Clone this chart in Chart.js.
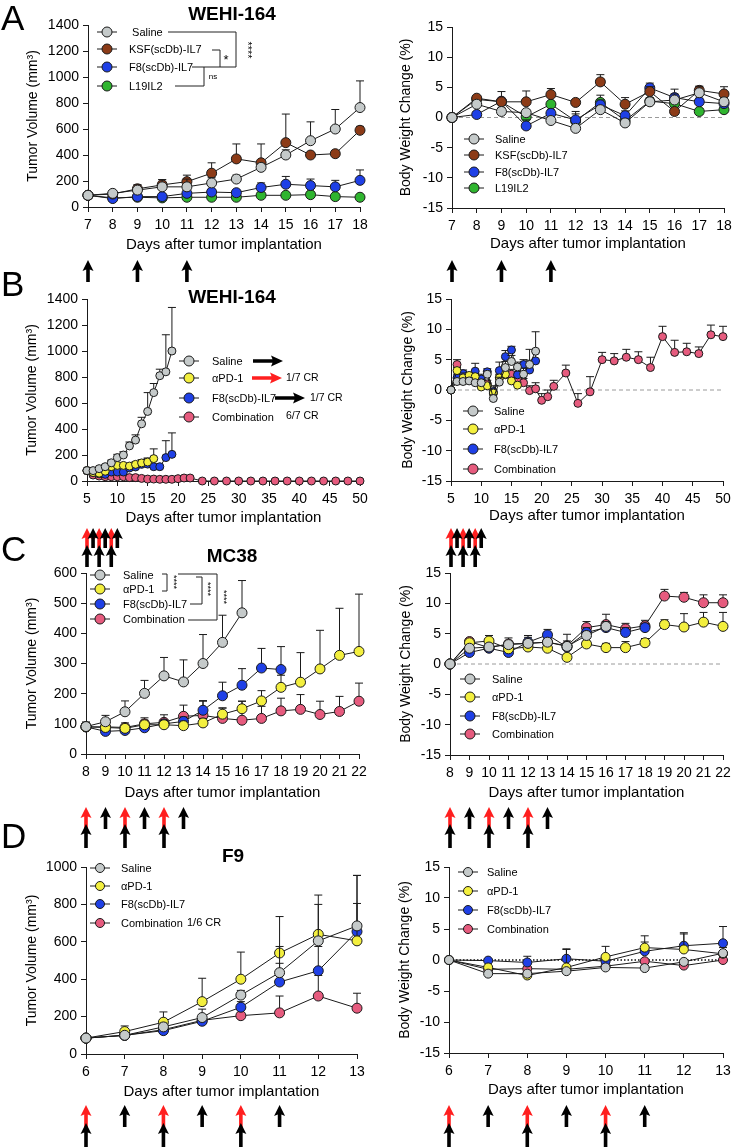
<!DOCTYPE html>
<html>
<head>
<meta charset="utf-8">
<script src="https://cdn.jsdelivr.net/npm/chart.js@4.4.1/dist/chart.umd.min.js"></script>
<style>
  html, body { margin: 0; padding: 0; overflow: hidden; background: #fff; }
  body { width: 732px; height: 1148px; position: relative; font-family: "Liberation Sans", Arial, sans-serif; }
  canvas { position: absolute; }
  .letter { position: absolute; font-size: 35px; line-height: 1; color: #000; z-index: 5; }
  .title { position: absolute; font-size: 19px; font-weight: bold; line-height: 1; color: #000;
           transform: translateX(-50%); white-space: nowrap; z-index: 5; }
</style>
</head>
<body>
<div class="letter" style="left:1px;top:0px">A</div>
<div class="letter" style="left:1px;top:266px">B</div>
<div class="letter" style="left:1px;top:531px">C</div>
<div class="letter" style="left:1px;top:818px">D</div>
<div class="title" style="left:232px;top:4px">WEHI-164</div>
<div class="title" style="left:232px;top:287px">WEHI-164</div>
<div class="title" style="left:232px;top:546px">MC38</div>
<div class="title" style="left:233px;top:846px">F9</div>

<canvas id="aVol"></canvas>
<canvas id="aBw"></canvas>
<canvas id="bVol"></canvas>
<canvas id="bBw"></canvas>
<canvas id="cVol"></canvas>
<canvas id="cBw"></canvas>
<canvas id="dVol"></canvas>
<canvas id="dBw"></canvas>

<script>
const FONT = '"Liberation Sans", Arial, sans-serif';
const INK = '#1a1a1a';
const RED = '#ff1f1f';
const COLORS = {
  saline: '#c5caca',
  ksf: '#8c3b17',
  f8: '#1f40e6',
  l19: '#2fb52f',
  pd1: '#f3ef3e',
  combo: '#e65b7e',
};

// ---- A: WEHI-164, single agents ----
const daysA = [7, 8, 9, 10, 11, 12, 13, 14, 15, 16, 17, 18];
const volSalineA = [90, 105, 130, 155, 155, 185, 215, 305, 400, 510, 600, 765];
const volSalineAErr = [0, 10, 40, 55, 60, 40, 30, 30, 40, 145, 150, 205];
const volKsfA = [90, 100, 140, 170, 195, 260, 370, 340, 495, 400, 410, 590];
const volKsfAErr = [0, 10, 30, 40, 50, 80, 115, 145, 220, 20, 25, 30];
const volF8A = [90, 65, 80, 80, 105, 115, 110, 150, 175, 165, 155, 205];
const volF8AErr = [0, 5, 10, 10, 15, 20, 15, 35, 60, 50, 50, 80];
const volL19A = [90, 70, 75, 70, 75, 75, 75, 90, 90, 95, 80, 75];
const volL19AErr = [0, 5, 5, 5, 10, 10, 10, 15, 15, 15, 15, 20];
const bwSalineA = [0, 2.2, 1.0, 0.8, -0.5, -1.8, 1.3, -0.9, 2.6, 2.9, 4.1, 2.6];
const bwSalineAErr = [0, 0.5, 0.6, 0.5, 0.5, 0.5, 0.6, 0.4, 0.6, 1.0, 1.0, 0.6];
const bwKsfA = [0, 3.2, 2.6, 2.6, 3.8, 2.5, 5.9, 2.2, 4.3, 1.0, 4.5, 3.9];
const bwKsfAErr = [0, 0.4, 1.7, 1.8, 1.0, 0.4, 1.2, 1.1, 0.8, 0.5, 0.7, 1.2];
const bwF8A = [0, 0.5, 2.7, -1.4, 0.7, -0.4, 2.1, 0.3, 4.9, 3.3, 2.6, 2.3];
const bwF8AErr = [0, 0.4, 0.5, 1.0, 0.6, 1.0, 0.8, 0.8, 0.8, 1.4, 0.6, 0.6];
const bwL19A = [0, 3.0, 2.6, 0.1, 2.2, -0.6, 2.5, -0.5, 2.7, 2.3, 1.0, 1.3];
const bwL19AErr = [0, 0.3, 0.4, 0.5, 0.5, 1.6, 1.2, 0.4, 0.6, 0.6, 0.5, 0.5];
const doseA = [7, 9, 11];

// ---- B: WEHI-164, combination ----
const daysSalineB = [5, 6, 7, 8, 9, 10, 11, 12, 13, 14, 15, 16, 17, 18, 19];
const daysPd1B = [5, 6, 7, 8, 9, 10, 11, 12, 13, 14, 15, 16];
const daysF8B = [5, 6, 7, 8, 9, 10, 11, 12, 13, 14, 15, 16, 17, 18, 19];
const daysComboB = [5, 6, 7, 8, 9, 10, 11, 12, 13, 14, 15, 16, 17, 18, 19, 20, 21, 22,
  24, 26, 28, 30, 32, 34, 36, 38, 40, 42, 44, 46, 48, 50];
const volSalineB = [80, 80, 95, 110, 140, 180, 200, 270, 315, 440, 535, 680, 810, 840, 1000];
const volSalineBErr = [10, 10, 10, 15, 20, 25, 25, 30, 40, 50, 145, 70, 50, 285, 335];
const volPd1B = [80, 65, 60, 75, 110, 120, 120, 115, 128, 139, 146, 172];
const volPd1BErr = [5, 5, 5, 5, 10, 15, 15, 15, 20, 25, 30, 75];
const volF8B = [80, 65, 55, 51, 69, 69, 69, 100, 108, 128, 130, 110, 110, 180, 205];
const volF8BErr = [5, 5, 5, 5, 5, 5, 10, 10, 15, 20, 45, 10, 10, 130, 165];
const volComboB = [80, 46, 38, 33, 33, 33, 33, 26, 26, 20, 15, 15, 13, 13, 13, 18, 23, 23,
  0, 0, 0, 0, 0, 0, 0, 0, 0, 0, 0, 0, 0, 0];
const volComboBErr = [5, 5, 5, 5, 5, 5, 5, 5, 5, 5, 5, 5, 5, 5, 5, 5, 5, 5,
  0, 0, 0, 0, 0, 0, 0, 0, 0, 0, 0, 0, 0, 0];
const bwSalineB = [0, 1.4, 1.4, 1.5, 1.2, 1.2, 2.6, -1.4, 1.3, 3.7, 4.7, 3.8, 2.6, 4.2, 6.4];
const bwSalineBErr = [0, 0.5, 0.5, 0.5, 0.5, 0.5, 0.5, 0.6, 0.8, 1.0, 1.0, 0.8, 1.0, 2.5, 3.2];
const bwPd1B = [0, 3.2, 2.0, 2.4, 2.2, 0.5, 0.7, -0.5, 2.0, 2.6, 1.5, 0.8];
const bwPd1BErr = [0, 0.5, 0.8, 0.5, 0.5, 0.5, 0.5, 0.5, 0.5, 0.8, 0.5, 0.5];
const bwF8B = [0, 2.0, 2.7, 2.0, 3.1, 1.8, 3.0, -0.3, 3.2, 5.5, 6.6, 2.5, 4.2, 3.3, 4.8];
const bwF8BErr = [0, 0.6, 0.6, 0.5, 1.3, 0.8, 0.5, 1.0, 1.4, 1.0, 0.6, 1.1, 0.8, 1.6, 1.5];
const bwComboB = [0, 4.2, 2.5, 2.2, 2.0, 1.5, 1.0, -0.5, 2.0, 2.5, 2.6, 1.8, 1.2, -0.1, 0.2, -1.7, -1.1, 0.6,
  2.8, -2.2, -0.3, 5.0, 4.8, 5.4, 5.0, 3.7, 8.8, 6.2, 6.3, 6.0, 9.1, 8.8];
const bwComboBErr = [0, 0.8, 0.6, 0.6, 0.6, 0.6, 0.6, 0.6, 0.6, 0.6, 0.8, 0.8, 0.7, 0.8, 1.0, 1.1, 1.1, 1.0,
  1.3, 1.6, 2.5, 1.2, 1.2, 1.3, 1.3, 1.7, 1.7, 2.0, 1.4, 1.1, 1.6, 1.7];
const doseBRed = [5, 7, 9];
const doseBBlackTop = [6, 8, 10];
const doseBBlackLow = [5, 7, 9];

// ---- C: MC38 ----
const daysC = [8, 9, 10, 11, 12, 13, 14, 15, 16, 17, 18, 19, 20, 21, 22];
const daysSalineC = [8, 9, 10, 11, 12, 13, 14, 15, 16];
const daysF8C = [8, 9, 10, 11, 12, 13, 14, 15, 16, 17, 18];
const volSalineC = [91, 107, 140, 201, 259, 239, 300, 370, 468];
const volSalineCErr = [15, 21, 36, 43, 61, 73, 96, 90, 107];
const volPd1C = [90, 88, 85, 97, 97, 94, 103, 132, 150, 176, 221, 238, 282, 327, 340];
const volPd1CErr = [10, 10, 10, 15, 15, 15, 15, 20, 25, 34, 40, 98, 128, 156, 190];
const volF8C = [90, 75, 78, 87, 100, 108, 145, 193, 228, 285, 280];
const volF8CErr = [15, 10, 10, 10, 10, 15, 32, 45, 55, 65, 76];
const volComboC = [90, 90, 88, 100, 105, 125, 128, 118, 112, 118, 143, 148, 131, 141, 175];
const volComboCErr = [10, 15, 15, 20, 25, 37, 47, 35, 63, 40, 42, 49, 44, 50, 60];
const bwSalineC = [0, 2.6, 2.8, 3.2, 3.4, 3.6, 2.9, 4.7, 6.2];
const bwSalineCErr = [0, 0.5, 0.5, 0.6, 0.6, 0.6, 0.6, 0.7, 0.8];
const bwPd1C = [0, 3.5, 3.8, 2.5, 2.8, 2.6, 1.1, 3.3, 2.7, 2.7, 3.5, 6.5, 6.1, 6.9, 6.2];
const bwPd1CErr = [0, 0.4, 0.9, 0.6, 0.5, 0.5, 0.5, 0.5, 0.7, 1.0, 0.7, 0.8, 2.2, 1.6, 2.3];
const bwF8C = [0, 1.9, 2.6, 1.9, 3.6, 4.8, 2.8, 5.2, 6.0, 5.2, 6.0];
const bwF8CErr = [0, 0.5, 0.6, 0.6, 0.8, 0.9, 1.0, 0.8, 0.9, 0.8, 0.7];
const bwComboC = [0, 3.7, 2.7, 3.3, 3.4, 3.6, 3.0, 6.0, 6.5, 5.8, 6.3, 11.2, 11.0, 10.1, 10.1];
const bwComboCErr = [0, 0.4, 0.8, 1.0, 1.3, 0.8, 1.9, 1.0, 1.7, 0.9, 0.9, 1.1, 0.8, 1.3, 1.3];
const doseCRed = [8, 10, 12];
const doseCBlackTop = [9, 11, 13];
const doseCBlackLow = [8, 10, 12];

// ---- D: F9 ----
const daysD = [6, 7, 8, 9, 10, 11, 12, 13];
const volSalineD = [85, 100, 145, 195, 315, 435, 605, 685];
const volSalineDErr = [0, 12, 20, 45, 25, 140, 195, 270];
const volPd1D = [85, 120, 170, 280, 400, 540, 640, 605];
const volPd1DErr = [0, 30, 55, 125, 145, 195, 210, 350];
const volF8D = [85, 100, 125, 175, 250, 385, 445, 655];
const volF8DErr = [0, 10, 15, 30, 30, 100, 130, 150];
const volComboD = [85, 100, 130, 180, 205, 220, 310, 245];
const volComboDErr = [0, 10, 15, 25, 30, 90, 110, 80];
const bwSalineD = [0, -2.2, -2.2, -1.8, -1.2, -1.3, -0.3, 1.1];
const bwSalineDErr = [0, 0.3, 0.3, 0.3, 0.3, 0.3, 0.3, 0.3];
const bwPd1D = [0, -1.2, -2.5, -1.2, 0.5, 2.0, 1.7, 1.0];
const bwPd1DErr = [0, 0.3, 0.5, 3.0, 1.7, 1.9, 2.5, 1.0];
const bwF8D = [0, -0.1, -0.4, 0.2, -0.2, 1.4, 2.3, 2.7];
const bwF8DErr = [0, 0.3, 1.0, 1.5, 0.5, 1.5, 2.1, 2.7];
const bwComboD = [0, -1.5, -1.4, -1.5, -1.0, -0.2, -0.9, 0.0];
const bwComboDErr = [0, 0.3, 0.3, 0.3, 0.3, 0.3, 0.3, 0.3];
const doseDRed = [6, 8, 10];
const doseDBlackTop = [7, 9, 11];
const doseDBlackLow = [6, 8, 10];

const VOL_TITLE = 'Tumor Volume (mm\u00b3)';
const BW_TITLE = 'Body Weight Change (%)';
const X_TITLE = 'Days after tumor implantation';

// extra drawing info per canvas (page coordinates), read by the plugin
const extras = {};

function series(color, days, vals, err, r) {
  return {
    data: days.map((d, i) => ({ x: d, y: vals[i] })),
    errUp: err,
    borderColor: INK,
    borderWidth: 1,
    pointBackgroundColor: color,
    pointBorderColor: INK,
    pointBorderWidth: 1,
    pointRadius: r,
    pointHoverRadius: r,
    tension: 0,
    fill: false,
    clip: false,
  };
}

function upArrow(ctx, x, tip, len, color) {
  const hw = 5.5, hh = 11, sw = 1.8;
  ctx.fillStyle = color;
  ctx.beginPath();
  ctx.moveTo(x, tip);
  ctx.lineTo(x + hw, tip + hh);
  ctx.lineTo(x + sw, tip + hh - 1.5);
  ctx.lineTo(x + sw, tip + len);
  ctx.lineTo(x - sw, tip + len);
  ctx.lineTo(x - sw, tip + hh - 1.5);
  ctx.lineTo(x - hw, tip + hh);
  ctx.closePath();
  ctx.fill();
}

function rightArrow(ctx, x1, x2, y, color) {
  const hw = 5.5, hl = 12, sw = 1.8;
  ctx.fillStyle = color;
  ctx.beginPath();
  ctx.moveTo(x2, y);
  ctx.lineTo(x2 - hl, y - hw);
  ctx.lineTo(x2 - hl + 1.5, y - sw);
  ctx.lineTo(x1, y - sw);
  ctx.lineTo(x1, y + sw);
  ctx.lineTo(x2 - hl + 1.5, y + sw);
  ctx.lineTo(x2 - hl, y + hw);
  ctx.closePath();
  ctx.fill();
}

const prismPlugin = {
  id: 'prismExtras',
  beforeDatasetsDraw(chart) {
    const ex = extras[chart.canvas.id];
    if (!ex.zero) return;
    const { ctx, chartArea } = chart;
    const y0 = chart.scales.y.getPixelForValue(0);
    ctx.save();
    ctx.beginPath();
    if (ex.zero === 'dot') {
      ctx.strokeStyle = '#111';
      ctx.lineWidth = 1.3;
      ctx.setLineDash([1.5, 2]);
    } else {
      ctx.strokeStyle = '#9a9a9a';
      ctx.lineWidth = 1;
      ctx.setLineDash([4, 3]);
    }
    ctx.moveTo(chartArea.left, y0);
    ctx.lineTo(chartArea.right, y0);
    ctx.stroke();
    ctx.restore();
  },
  beforeDatasetDraw(chart, args) {
    const ds = chart.data.datasets[args.index];
    if (!ds.errUp) return;
    const { ctx } = chart;
    const ys = chart.scales.y;
    ctx.save();
    ctx.strokeStyle = INK;
    ctx.lineWidth = 1;
    args.meta.data.forEach((el, i) => {
      const e = ds.errUp[i];
      if (!e) return;
      const top = ys.getPixelForValue(ds.data[i].y + e);
      ctx.beginPath();
      ctx.moveTo(el.x, el.y);
      ctx.lineTo(el.x, top);
      ctx.moveTo(el.x - 4, top);
      ctx.lineTo(el.x + 4, top);
      ctx.stroke();
    });
    ctx.restore();
  },
  afterDraw(chart) {
    const ex = extras[chart.canvas.id];
    const { ctx } = chart;
    const [ox, oy] = ex.canvas;
    const xs = chart.scales.x;
    ctx.save();
    ctx.translate(-ox, -oy);

    // dosing arrows under the x axis
    (ex.arrows || []).forEach(row => {
      row.days.forEach(d => upArrow(ctx, xs.getPixelForValue(d) + ox, row.tip, row.len, row.color));
    });

    // legend: line - marker - line, then label
    const lg = ex.legend;
    ctx.font = '11px ' + FONT;
    ctx.textBaseline = 'middle';
    ctx.textAlign = 'left';
    lg.items.forEach(([color, label, y]) => {
      ctx.strokeStyle = INK;
      ctx.lineWidth = 1;
      ctx.beginPath();
      ctx.moveTo(lg.mx - 10, y);
      ctx.lineTo(lg.mx + 10, y);
      ctx.stroke();
      ctx.beginPath();
      ctx.arc(lg.mx, y, lg.r || 5, 0, Math.PI * 2);
      ctx.fillStyle = color;
      ctx.fill();
      ctx.stroke();
      ctx.fillStyle = '#000';
      ctx.fillText(label, lg.tx, y + 0.5);
    });

    // significance brackets
    ctx.strokeStyle = '#222';
    ctx.lineWidth = 1;
    (ex.lines || []).forEach(([x1, y1, x2, y2]) => {
      ctx.beginPath();
      ctx.moveTo(x1, y1);
      ctx.lineTo(x2, y2);
      ctx.stroke();
    });
    (ex.legendArrows || []).forEach(([x1, x2, y, color]) => rightArrow(ctx, x1, x2, y, color));
    (ex.notes || []).forEach(n => {
      ctx.save();
      ctx.translate(n.x, n.y);
      if (n.rot) ctx.rotate(Math.PI / 2);
      ctx.font = n.size + 'px ' + FONT;
      ctx.fillStyle = '#000';
      ctx.textAlign = n.align || 'center';
      ctx.textBaseline = 'middle';
      ctx.fillText(n.text, 0, 0);
      ctx.restore();
    });
    ctx.restore();
  },
};

function axisOpts(min, max, step, title, isX, fit) {
  return {
    type: 'linear',
    min, max,
    ticks: {
      stepSize: step, autoSkip: false, maxRotation: 0, minRotation: 0,
      color: '#000', font: { family: FONT, size: 14 }, padding: isX ? 5 : 4,
      callback: v => String(v),
    },
    grid: { drawOnChartArea: false, drawTicks: true, tickLength: 5, color: INK, lineWidth: 1 },
    border: { display: true, color: INK, width: 1 },
    title: { display: true, text: title, color: '#000', font: { family: FONT, size: isX ? 15 : 14 }, padding: 0 },
    afterFit: s => { if (isX) s.height = fit; else s.width = fit; },
  };
}

function buildChart(id, p) {
  const [cx, cy, cw, ch] = p.canvas;
  const [l, t, r, b] = p.area;
  const yw = l - p.yTitleX + 8.4;
  const xh = p.xTitleY - b + 9;
  const canvas = document.getElementById(id);
  canvas.width = cw;
  canvas.height = ch;
  canvas.style.left = cx + 'px';
  canvas.style.top = cy + 'px';
  extras[id] = p;
  return new Chart(canvas, {
    type: 'line',
    data: { datasets: p.datasets },
    options: {
      responsive: false,
      animation: false,
      devicePixelRatio: 1,
      events: [],
      layout: { padding: { left: p.yTitleX - 8.4 - cx, top: t - cy, right: cx + cw - r, bottom: cy + ch - b - xh } },
      plugins: { legend: { display: false }, tooltip: { enabled: false } },
      scales: {
        x: axisOpts(p.x[0], p.x[1], p.x[2], X_TITLE, true, xh),
        y: axisOpts(p.y[0], p.y[1], p.y[2], p.yTitle, false, yw),
      },
    },
    plugins: [prismPlugin],
  });
}

function arrowRows(red, blackTop, blackLow, tipTop, tipLow, len) {
  const rows = [];
  if (red) rows.push({ days: red, color: RED, tip: tipTop, len });
  if (blackTop) rows.push({ days: blackTop, color: '#000', tip: tipTop, len });
  if (blackLow) rows.push({ days: blackLow, color: '#000', tip: tipLow, len: len + 2 });
  return rows;
}

// ---------- Panel A ----------
buildChart('aVol', {
  canvas: [0, 0, 374, 290], area: [88, 25, 360, 207], yTitleX: 33, xTitleY: 245,
  x: [7, 18, 1], y: [0, 1400, 200], yTitle: VOL_TITLE,
  datasets: [
    series(COLORS.saline, daysA, volSalineA, volSalineAErr, 5),
    series(COLORS.ksf, daysA, volKsfA, volKsfAErr, 5),
    series(COLORS.f8, daysA, volF8A, volF8AErr, 5),
    series(COLORS.l19, daysA, volL19A, volL19AErr, 5),
  ],
  arrows: arrowRows(null, doseA, null, 260, 0, 22),
  legend: { mx: 107, tx: 129, items: [
    [COLORS.saline, ' Saline', 32], [COLORS.ksf, 'KSF(scDb)-IL7', 49],
    [COLORS.f8, 'F8(scDb)-IL7', 67], [COLORS.l19, 'L19IL2', 86]] },
  lines: [[168, 32, 236, 32], [236, 32, 236, 67], [212, 50, 220, 50], [220, 50, 220, 67],
          [204, 67, 236, 67], [192, 67, 204, 67], [204, 67, 204, 86], [175, 86, 204, 86]],
  notes: [{ text: '****', x: 247, y: 50, size: 11, rot: true },
          { text: '*', x: 226, y: 60, size: 13 },
          { text: 'ns', x: 213, y: 77, size: 8 }],
});
buildChart('aBw', {
  canvas: [366, 0, 374, 290], area: [452, 27, 724, 208], yTitleX: 406, xTitleY: 244,
  x: [7, 18, 1], y: [-15, 15, 5], yTitle: BW_TITLE, zero: 'dash',
  datasets: [
    series(COLORS.saline, daysA, bwSalineA, bwSalineAErr, 5),
    series(COLORS.ksf, daysA, bwKsfA, bwKsfAErr, 5),
    series(COLORS.f8, daysA, bwF8A, bwF8AErr, 5),
    series(COLORS.l19, daysA, bwL19A, bwL19AErr, 5),
  ],
  arrows: arrowRows(null, doseA, null, 260, 0, 22),
  legend: { mx: 474, tx: 495, items: [
    [COLORS.saline, 'Saline', 139], [COLORS.ksf, 'KSF(scDb)-IL7', 155],
    [COLORS.f8, 'F8(scDb)-IL7', 172], [COLORS.l19, 'L19IL2', 188]] },
});

// ---------- Panel B ----------
buildChart('bVol', {
  canvas: [0, 286, 374, 284], area: [87, 299, 360, 481], yTitleX: 32, xTitleY: 518,
  x: [5, 50, 5], y: [0, 1400, 200], yTitle: VOL_TITLE,
  datasets: [
    series(COLORS.saline, daysSalineB, volSalineB, volSalineBErr, 4),
    series(COLORS.pd1, daysPd1B, volPd1B, volPd1BErr, 4),
    series(COLORS.f8, daysF8B, volF8B, volF8BErr, 4),
    series(COLORS.combo, daysComboB, volComboB, volComboBErr, 4),
  ],
  arrows: arrowRows(doseBRed, doseBBlackTop, doseBBlackLow, 528, 545, 20),
  legend: { mx: 189, tx: 212, items: [
    [COLORS.saline, 'Saline', 361], [COLORS.pd1, '\u03b1PD-1', 378],
    [COLORS.f8, 'F8(scDb)-IL7', 398], [COLORS.combo, 'Combination', 417]] },
  legendArrows: [[253, 283, 361, '#000'], [252, 282, 378, RED], [275, 305, 398, '#000']],
  notes: [{ text: '1/7 CR', x: 286, y: 378, size: 10.5, align: 'left' },
          { text: '1/7 CR', x: 310, y: 398, size: 10.5, align: 'left' },
          { text: '6/7 CR', x: 286, y: 416, size: 10.5, align: 'left' }],
});
buildChart('bBw', {
  canvas: [366, 286, 374, 284], area: [451, 299, 723, 481], yTitleX: 408, xTitleY: 516,
  x: [5, 50, 5], y: [-15, 15, 5], yTitle: BW_TITLE, zero: 'dash',
  datasets: [
    series(COLORS.saline, daysSalineB, bwSalineB, bwSalineBErr, 4),
    series(COLORS.pd1, daysPd1B, bwPd1B, bwPd1BErr, 4),
    series(COLORS.f8, daysF8B, bwF8B, bwF8BErr, 4),
    series(COLORS.combo, daysComboB, bwComboB, bwComboBErr, 4),
  ],
  arrows: arrowRows(doseBRed, doseBBlackTop, doseBBlackLow, 528, 545, 20),
  legend: { mx: 473, tx: 494, items: [
    [COLORS.saline, 'Saline', 411], [COLORS.pd1, '\u03b1PD-1', 429],
    [COLORS.f8, 'F8(scDb)-IL7', 449], [COLORS.combo, 'Combination', 469]] },
});

// ---------- Panel C ----------
buildChart('cVol', {
  canvas: [0, 556, 374, 296], area: [86, 573, 359, 754], yTitleX: 32, xTitleY: 793,
  x: [8, 22, 1], y: [0, 600, 100], yTitle: VOL_TITLE,
  datasets: [
    series(COLORS.saline, daysSalineC, volSalineC, volSalineCErr, 5),
    series(COLORS.pd1, daysC, volPd1C, volPd1CErr, 5),
    series(COLORS.f8, daysF8C, volF8C, volF8CErr, 5),
    series(COLORS.combo, daysC, volComboC, volComboCErr, 5),
  ],
  arrows: arrowRows(doseCRed, doseCBlackTop, doseCBlackLow, 807, 824, 22),
  legend: { mx: 100, tx: 123, items: [
    [COLORS.saline, 'Saline', 575], [COLORS.pd1, '\u03b1PD-1', 589],
    [COLORS.f8, 'F8(scDb)-IL7', 604], [COLORS.combo, 'Combination', 619]] },
  lines: [[162, 574, 167, 574], [167, 574, 167, 591], [162, 591, 167, 591],
          [196, 577, 202, 577], [202, 577, 202, 604], [190, 604, 202, 604],
          [178, 574, 217, 574], [217, 574, 217, 620], [188, 620, 217, 620]],
  notes: [{ text: '****', x: 173, y: 582, size: 9, rot: true },
          { text: '****', x: 207, y: 589, size: 9, rot: true },
          { text: '****', x: 223, y: 597, size: 9, rot: true }],
});
buildChart('cBw', {
  canvas: [366, 556, 374, 296], area: [450, 573, 723, 755], yTitleX: 406, xTitleY: 793,
  x: [8, 22, 1], y: [-15, 15, 5], yTitle: BW_TITLE, zero: 'dash',
  datasets: [
    series(COLORS.saline, daysSalineC, bwSalineC, bwSalineCErr, 5),
    series(COLORS.pd1, daysC, bwPd1C, bwPd1CErr, 5),
    series(COLORS.f8, daysF8C, bwF8C, bwF8CErr, 5),
    series(COLORS.combo, daysC, bwComboC, bwComboCErr, 5),
  ],
  arrows: arrowRows(doseCRed, doseCBlackTop, doseCBlackLow, 807, 824, 22),
  legend: { mx: 470, tx: 492, items: [
    [COLORS.saline, 'Saline', 679], [COLORS.pd1, '\u03b1PD-1', 697],
    [COLORS.f8, 'F8(scDb)-IL7', 716], [COLORS.combo, 'Combination', 734]] },
});

// ---------- Panel D ----------
buildChart('dVol', {
  canvas: [0, 850, 374, 298], area: [86, 867, 357, 1054], yTitleX: 32, xTitleY: 1092,
  x: [6, 13, 1], y: [0, 1000, 200], yTitle: VOL_TITLE,
  datasets: [
    series(COLORS.saline, daysD, volSalineD, volSalineDErr, 5),
    series(COLORS.pd1, daysD, volPd1D, volPd1DErr, 5),
    series(COLORS.f8, daysD, volF8D, volF8DErr, 5),
    series(COLORS.combo, daysD, volComboD, volComboDErr, 5),
  ],
  arrows: arrowRows(doseDRed, doseDBlackTop, doseDBlackLow, 1105, 1123, 22),
  legend: { mx: 100, tx: 121, r: 4.5, items: [
    [COLORS.saline, 'Saline', 868], [COLORS.pd1, '\u03b1PD-1', 886],
    [COLORS.f8, 'F8(scDb)-IL7', 904], [COLORS.combo, 'Combination', 923]] },
  notes: [{ text: '1/6 CR', x: 187, y: 923, size: 11, align: 'left' }],
});
buildChart('dBw', {
  canvas: [366, 850, 374, 298], area: [449, 867, 723, 1053], yTitleX: 405, xTitleY: 1090,
  x: [6, 13, 1], y: [-15, 15, 5], yTitle: BW_TITLE, zero: 'dot',
  datasets: [
    series(COLORS.saline, daysD, bwSalineD, bwSalineDErr, 4.5),
    series(COLORS.pd1, daysD, bwPd1D, bwPd1DErr, 4.5),
    series(COLORS.f8, daysD, bwF8D, bwF8DErr, 4.5),
    series(COLORS.combo, daysD, bwComboD, bwComboDErr, 4.5),
  ],
  arrows: arrowRows(doseDRed, doseDBlackTop, doseDBlackLow, 1105, 1123, 22),
  legend: { mx: 468, tx: 487, r: 4.5, items: [
    [COLORS.saline, 'Saline', 872], [COLORS.pd1, '\u03b1PD-1', 891],
    [COLORS.f8, 'F8(scDb)-IL7', 910], [COLORS.combo, 'Combination', 929]] },
});
</script>
</body>
</html>
